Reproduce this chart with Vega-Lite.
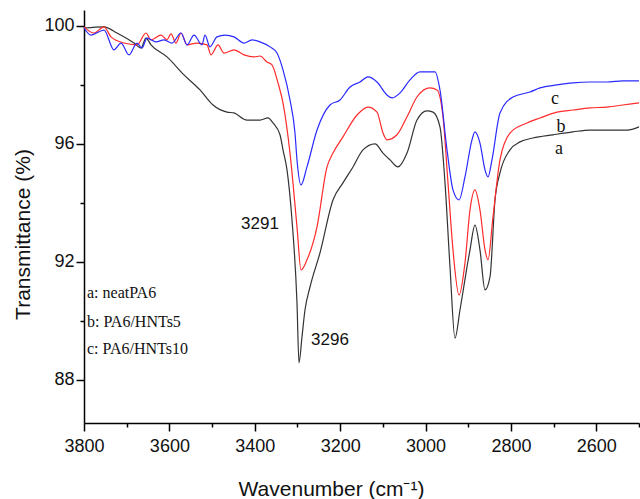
{
  "$schema": "https://vega.github.io/schema/vega-lite/v6.json",
  "width": 555,
  "height": 413,
  "autosize": {"type": "none"},
  "padding": {"left": 84, "top": 10, "right": 1, "bottom": 76},
  "background": "white",
  "config": {"view": {"stroke": null}, "font": "Liberation Sans"},
  "datasets": {
    "spectra": [
      {"s":"a","w":3800,"t":99.93},{"s":"a","w":3753.2,"t":99.97},{"s":"a","w":3722.7,"t":99.76},{"s":"a","w":3682.9,"t":99.42},{"s":"a","w":3666.5,"t":99.25},{"s":"a","w":3654.8,"t":99.59},{"s":"a","w":3643.1,"t":99.36},{"s":"a","w":3605.6,"t":98.95},{"s":"a","w":3565.8,"t":98.34},{"s":"a","w":3528.3,"t":97.83},{"s":"a","w":3497.8,"t":97.32},{"s":"a","w":3465.0,"t":97.08},{"s":"a","w":3448.7,"t":97.05},{"s":"a","w":3418.2,"t":96.81},{"s":"a","w":3387.7,"t":96.81},{"s":"a","w":3369.0,"t":96.88},{"s":"a","w":3357.3,"t":96.71},{"s":"a","w":3340.9,"t":96.31},{"s":"a","w":3333.9,"t":95.80},{"s":"a","w":3324.5,"t":95.12},{"s":"a","w":3312.8,"t":93.42},{"s":"a","w":3301.1,"t":90.61},{"s":"a","w":3296.4,"t":88.58},{"s":"a","w":3289.4,"t":89.46},{"s":"a","w":3282.4,"t":90.37},{"s":"a","w":3270.6,"t":91.15},{"s":"a","w":3247.2,"t":92.31},{"s":"a","w":3216.8,"t":94.10},{"s":"a","w":3193.4,"t":94.68},{"s":"a","w":3169.9,"t":95.22},{"s":"a","w":3146.5,"t":95.80},{"s":"a","w":3118.4,"t":96.00},{"s":"a","w":3099.7,"t":95.69},{"s":"a","w":3083.3,"t":95.46},{"s":"a","w":3064.5,"t":95.22},{"s":"a","w":3043.4,"t":95.69},{"s":"a","w":3020.0,"t":96.81},{"s":"a","w":2996.6,"t":97.12},{"s":"a","w":2982.5,"t":97.08},{"s":"a","w":2966.2,"t":96.58},{"s":"a","w":2954.4,"t":94.68},{"s":"a","w":2942.7,"t":91.83},{"s":"a","w":2931.0,"t":89.42},{"s":"a","w":2919.3,"t":90.37},{"s":"a","w":2902.9,"t":91.83},{"s":"a","w":2895.9,"t":92.41},{"s":"a","w":2884.2,"t":93.25},{"s":"a","w":2872.5,"t":92.41},{"s":"a","w":2860.7,"t":91.05},{"s":"a","w":2849.0,"t":91.49},{"s":"a","w":2837.3,"t":94.10},{"s":"a","w":2825.6,"t":95.02},{"s":"a","w":2802.2,"t":95.80},{"s":"a","w":2778.8,"t":96.07},{"s":"a","w":2748.3,"t":96.20},{"s":"a","w":2701.5,"t":96.31},{"s":"a","w":2654.6,"t":96.41},{"s":"a","w":2614.8,"t":96.47},{"s":"a","w":2575.0,"t":96.47},{"s":"a","w":2528.1,"t":96.47},{"s":"a","w":2500,"t":96.58},
      {"s":"b","w":3800,"t":99.97},{"s":"b","w":3776.6,"t":99.76},{"s":"b","w":3753.2,"t":99.97},{"s":"b","w":3736.8,"t":99.63},{"s":"b","w":3706.3,"t":99.42},{"s":"b","w":3675.9,"t":99.36},{"s":"b","w":3654.8,"t":99.76},{"s":"b","w":3643.1,"t":99.53},{"s":"b","w":3619.6,"t":99.69},{"s":"b","w":3605.6,"t":99.53},{"s":"b","w":3596.2,"t":99.73},{"s":"b","w":3584.5,"t":99.42},{"s":"b","w":3572.8,"t":99.76},{"s":"b","w":3558.7,"t":99.36},{"s":"b","w":3535.3,"t":99.42},{"s":"b","w":3511.9,"t":99.36},{"s":"b","w":3502.5,"t":99.02},{"s":"b","w":3486.1,"t":99.36},{"s":"b","w":3472.1,"t":99.08},{"s":"b","w":3448.7,"t":99.19},{"s":"b","w":3425.2,"t":99.02},{"s":"b","w":3401.8,"t":98.95},{"s":"b","w":3387.7,"t":98.98},{"s":"b","w":3371.4,"t":98.78},{"s":"b","w":3359.7,"t":98.68},{"s":"b","w":3345.6,"t":98.07},{"s":"b","w":3333.9,"t":97.39},{"s":"b","w":3317.5,"t":95.69},{"s":"b","w":3301.1,"t":93.19},{"s":"b","w":3291.7,"t":91.73},{"s":"b","w":3277.7,"t":92.07},{"s":"b","w":3254.2,"t":93.19},{"s":"b","w":3230.8,"t":95.22},{"s":"b","w":3216.8,"t":95.69},{"s":"b","w":3193.4,"t":96.24},{"s":"b","w":3160.5,"t":96.98},{"s":"b","w":3134.8,"t":97.25},{"s":"b","w":3113.7,"t":97.08},{"s":"b","w":3099.7,"t":96.37},{"s":"b","w":3090.3,"t":96.14},{"s":"b","w":3066.9,"t":96.31},{"s":"b","w":3043.4,"t":96.92},{"s":"b","w":3020.0,"t":97.59},{"s":"b","w":2989.6,"t":97.90},{"s":"b","w":2973.2,"t":97.83},{"s":"b","w":2959.1,"t":96.92},{"s":"b","w":2947.4,"t":94.68},{"s":"b","w":2935.7,"t":92.41},{"s":"b","w":2921.6,"t":90.88},{"s":"b","w":2907.6,"t":91.97},{"s":"b","w":2895.9,"t":93.76},{"s":"b","w":2884.2,"t":94.44},{"s":"b","w":2872.5,"t":93.76},{"s":"b","w":2860.7,"t":92.41},{"s":"b","w":2853.7,"t":92.07},{"s":"b","w":2842.0,"t":93.53},{"s":"b","w":2825.6,"t":95.46},{"s":"b","w":2802.2,"t":96.37},{"s":"b","w":2762.4,"t":96.71},{"s":"b","w":2731.9,"t":96.88},{"s":"b","w":2692.1,"t":97.08},{"s":"b","w":2654.6,"t":97.15},{"s":"b","w":2614.8,"t":97.22},{"s":"b","w":2575.0,"t":97.25},{"s":"b","w":2537.5,"t":97.32},{"s":"b","w":2500,"t":97.39},
      {"s":"c","w":3800,"t":99.93},{"s":"c","w":3783.6,"t":99.69},{"s":"c","w":3753.2,"t":99.86},{"s":"c","w":3729.7,"t":99.19},{"s":"c","w":3713.3,"t":99.42},{"s":"c","w":3694.6,"t":99.02},{"s":"c","w":3675.9,"t":99.42},{"s":"c","w":3664.1,"t":99.25},{"s":"c","w":3652.4,"t":99.59},{"s":"c","w":3631.4,"t":99.46},{"s":"c","w":3612.6,"t":99.53},{"s":"c","w":3593.9,"t":99.42},{"s":"c","w":3572.8,"t":99.76},{"s":"c","w":3558.7,"t":99.36},{"s":"c","w":3542.3,"t":99.69},{"s":"c","w":3523.6,"t":99.36},{"s":"c","w":3516.6,"t":99.69},{"s":"c","w":3504.9,"t":99.29},{"s":"c","w":3488.5,"t":99.63},{"s":"c","w":3469.7,"t":99.69},{"s":"c","w":3448.7,"t":99.63},{"s":"c","w":3425.2,"t":99.42},{"s":"c","w":3406.5,"t":99.53},{"s":"c","w":3387.7,"t":99.46},{"s":"c","w":3364.3,"t":99.29},{"s":"c","w":3348.0,"t":99.08},{"s":"c","w":3333.9,"t":98.51},{"s":"c","w":3317.5,"t":97.49},{"s":"c","w":3305.8,"t":96.37},{"s":"c","w":3301.1,"t":95.46},{"s":"c","w":3291.7,"t":94.61},{"s":"c","w":3277.7,"t":95.22},{"s":"c","w":3254.2,"t":96.47},{"s":"c","w":3223.8,"t":97.32},{"s":"c","w":3200.4,"t":97.49},{"s":"c","w":3176.9,"t":97.93},{"s":"c","w":3153.5,"t":98.10},{"s":"c","w":3134.8,"t":98.27},{"s":"c","w":3113.7,"t":98.10},{"s":"c","w":3090.3,"t":97.66},{"s":"c","w":3078.6,"t":97.56},{"s":"c","w":3059.8,"t":97.73},{"s":"c","w":3036.4,"t":98.17},{"s":"c","w":3013.0,"t":98.44},{"s":"c","w":2996.6,"t":98.44},{"s":"c","w":2977.8,"t":98.44},{"s":"c","w":2966.2,"t":97.83},{"s":"c","w":2949.7,"t":95.80},{"s":"c","w":2935.7,"t":94.44},{"s":"c","w":2921.6,"t":94.10},{"s":"c","w":2907.6,"t":94.88},{"s":"c","w":2891.2,"t":96.14},{"s":"c","w":2884.2,"t":96.41},{"s":"c","w":2872.5,"t":96.03},{"s":"c","w":2860.7,"t":95.12},{"s":"c","w":2853.7,"t":94.88},{"s":"c","w":2844.4,"t":95.46},{"s":"c","w":2825.6,"t":97.05},{"s":"c","w":2795.2,"t":97.59},{"s":"c","w":2755.3,"t":97.76},{"s":"c","w":2731.9,"t":97.90},{"s":"c","w":2692.1,"t":98.00},{"s":"c","w":2654.6,"t":98.07},{"s":"c","w":2614.8,"t":98.10},{"s":"c","w":2575.0,"t":98.10},{"s":"c","w":2537.5,"t":98.14},{"s":"c","w":2500,"t":98.14}
    ],
    "peaks": [
      {"w":3387.7,"t":93.29,"label":"3291"},
      {"w":3223.8,"t":89.36,"label":"3296"}
    ],
    "tags": [
      {"w":2696.8,"t":97.53,"label":"c"},
      {"w":2682.7,"t":96.58,"label":"b"},
      {"w":2687.4,"t":95.83,"label":"a"}
    ],
    "key": [
      {"w":3793,"t":90.95,"label":"a: neatPA6"},
      {"w":3793,"t":89.97,"label":"b: PA6/HNTs5"},
      {"w":3793,"t":89.05,"label":"c: PA6/HNTs10"}
    ]
  },
  "encoding": {
    "x": {
      "field": "w", "type": "quantitative",
      "scale": {"domain": [2500, 3800], "reverse": true, "nice": false, "zero": false},
      "axis": {
        "title": "Wavenumber (cm⁻¹)",
        "values": [2500,2600,2700,2800,2900,3000,3100,3200,3300,3400,3500,3600,3700,3800],
        "format": "d",
        "labelExpr": "datum.value % 200 == 0 ? datum.label : ''",
        "tickSize": {"expr": "datum.value % 200 == 0 ? 8 : 4"},
        "grid": false, "labelFlush": false, "labelOverlap": false,
        "domainColor": "#000", "tickColor": "#000", "domainWidth": 1.5, "tickWidth": 1.5,
        "labelFontSize": 18, "labelColor": "#111", "labelPadding": 6,
        "titleFontSize": 21, "titleFontWeight": "normal", "titleColor": "#111",
        "titleX": 247, "titleY": 72, "titleBaseline": "alphabetic"
      }
    },
    "y": {
      "field": "t", "type": "quantitative",
      "scale": {"domain": [86.54, 100.54], "nice": false, "zero": false},
      "axis": {
        "title": "Transmittance (%)",
        "values": [88,90,92,94,96,98,100],
        "labelExpr": "datum.value % 4 == 0 ? datum.label : ''",
        "tickSize": {"expr": "datum.value % 4 == 0 ? 8 : 4"},
        "grid": false,
        "domainColor": "#000", "tickColor": "#000", "domainWidth": 1.5, "tickWidth": 1.5,
        "labelFontSize": 18, "labelColor": "#111", "labelPadding": 2,
        "titleFontSize": 21, "titleFontWeight": "normal", "titleColor": "#111",
        "titleX": -55, "titleY": 224, "titleBaseline": "alphabetic", "titleAngle": 270, "titleAlign": "center"
      }
    }
  },
  "layer": [
    {
      "data": {"name": "spectra"},
      "mark": {"type": "line", "strokeWidth": 1.2, "interpolate": "monotone"},
      "encoding": {
        "color": {"field": "s", "type": "nominal", "scale": {"domain": ["a","b","c"], "range": ["#333333","#ff2a2a","#2a2aff"]}, "legend": null}
      }
    },
    {
      "data": {"name": "peaks"},
      "mark": {"type": "text", "font": "Liberation Sans", "fontSize": 17, "align": "center", "baseline": "middle", "color": "#111"},
      "encoding": {"text": {"field": "label"}}
    },
    {
      "data": {"name": "tags"},
      "mark": {"type": "text", "font": "Liberation Serif", "fontSize": 18, "align": "center", "baseline": "middle", "color": "#111"},
      "encoding": {"text": {"field": "label"}}
    },
    {
      "data": {"name": "key"},
      "mark": {"type": "text", "font": "Liberation Serif", "fontSize": 16, "align": "left", "baseline": "middle", "color": "#111"},
      "encoding": {"text": {"field": "label"}}
    }
  ]
}
